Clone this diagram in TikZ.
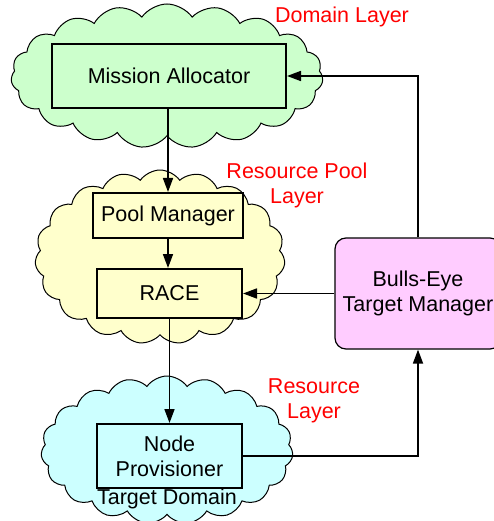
\documentclass[tikz,border=0pt]{standalone}
\usepackage{fontspec}
\setmainfont{Liberation Sans}
\usetikzlibrary{shapes.symbols,arrows.meta}
\definecolor{cgreen}{HTML}{CCFFCC}
\definecolor{cyellow}{HTML}{FFFFCC}
\definecolor{ccyan}{HTML}{CCFFFF}
\definecolor{cpink}{HTML}{FFCCFF}
\begin{document}
\begin{tikzpicture}[x=1pt,y=-1pt,
  every node/.style={font=\fontsize{21.5}{25}\selectfont},
  layercloud/.style={cloud, cloud puffs=19, cloud puff arc=110, cloud ignores aspect, draw=black, line width=1pt, inner sep=0pt},
  compbox/.style={draw=black, line width=2pt, inner sep=0pt, align=center},
  layerlabel/.style={text=red, align=center},
  conn/.style={line width=1.7pt, -{Triangle[length=14pt,width=10pt]}}]
\useasboundingbox (0,0) rectangle (494,521);
\clip (0,0) rectangle (494,521);
% clouds
\node[layercloud, fill=cgreen, minimum width=312pt, minimum height=144pt] (gcloud) at (167,76) {};
\node[layercloud, fill=cyellow, minimum width=250pt, minimum height=174pt] (ycloud) at (160,257) {};
\node[layercloud, fill=ccyan, minimum width=252pt, minimum height=148pt] (ccloud) at (167,450) {};
% boxes
\node[compbox, fill=cgreen, minimum width=234pt, minimum height=64pt] (ma) at (169,76) {Mission Allocator};
\node[compbox, fill=cyellow, minimum width=150pt, minimum height=45pt] (pm) at (168,215.5) {Pool Manager};
\node[compbox, fill=cyellow, minimum width=145pt, minimum height=49pt] (race) at (169.5,293.5) {RACE};
\node[compbox, fill=ccyan, minimum width=145pt, minimum height=64pt] (np) at (169.5,456) {Node\\Provisioner};
\node[draw=black, line width=1.2pt, fill=cpink, rounded corners=11pt, minimum width=166pt, minimum height=111pt, align=center, inner sep=0pt] (be) at (418,293.5) {Bulls-Eye\\Target Manager};
% labels
\node[layerlabel] (l1) at (342,17) {Domain Layer};
\node[layerlabel] (l2) at (297,185) {Resource Pool\\Layer};
\node[layerlabel] (l3) at (314,401) {Resource\\Layer};
\node (td) at (167,499) {Target Domain};
% connectors
\draw[conn] (ma.south -| pm.north) -- (pm.north);
\draw[conn] (pm.south) -- (pm.south |- race.north);
\draw[conn] (race.south) -- (np.north);
\draw[conn] (be.north) |- (ma.east);
\draw[conn] (be.west) -- (race.east);
\draw[conn] (np.east) -| (be.south);
\end{tikzpicture}
\end{document}
